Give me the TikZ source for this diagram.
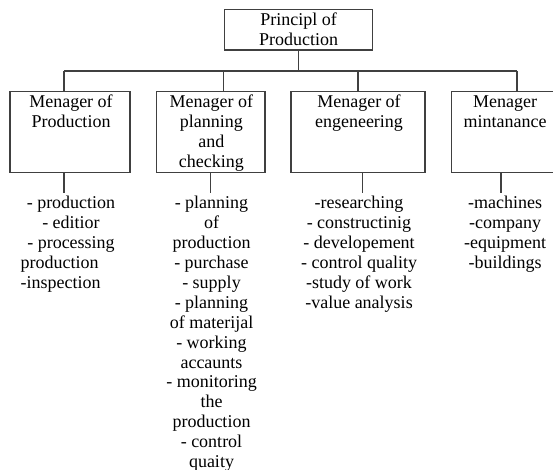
\documentclass[tikz,border=0pt]{standalone}
\usepackage{fontspec}
\setmainfont{Liberation Serif}
\definecolor{rule}{HTML}{404040}
\begin{document}
\begin{tikzpicture}[x=1pt,y=-1pt,
  frame/.style={draw=rule,line width=1.1pt,inner sep=0pt,outer sep=0pt,anchor=north west},
  caption/.style={font=\fontsize{18}{20}\selectfont,align=center,inner sep=0pt,anchor=base},
  items/.style={font=\fontsize{18}{19.92}\selectfont,align=center,inner sep=0pt,anchor=base},
  conn/.style={draw=rule,line width=1.1pt}]
\useasboundingbox (0,0) rectangle (553,470);
\clip (0,0) rectangle (553,470);

% head of the organisation (text nodes are placed by the baseline of their last line)
\node[frame,minimum width=148,minimum height=40.7] (p) at (224.3,9.3) {};
\node[caption] (ptext) at (298.6,46) {Principl of\\Production};

% the four managers
\node[frame,minimum width=120,minimum height=81] (m1) at (10,91.7) {};
\node[frame,minimum width=108.3,minimum height=81] (m2) at (156.7,91.7) {};
\node[frame,minimum width=134,minimum height=81] (m3) at (291,91.7) {};
\node[frame,minimum width=106.6,minimum height=81] (m4) at (451.7,91.7) {};

\node[caption] (c1) at (71,127.7) {Menager of\\Production};
\node[caption] (c2) at (211.3,167.7) {Menager of\\planning\\and\\checking};
\node[caption] (c3) at (359,127.7) {Menager of\\engeneering};
\node[caption] (c4) at (505,127.7) {Menager\\mintanance};

% junctions of the tree
\coordinate (j1) at (64,71);
\coordinate (j2) at (223.5,71);
\coordinate (j3) at (358,71);
\coordinate (j4) at (517,71);
\draw[conn] (p.south) -- (p.south |- j1);
\draw[conn] (j1) -- (j4);
\draw[conn] (j1) -- (j1 |- m1.north);
\draw[conn] (j2) -- (j2 |- m2.north);
\draw[conn] (j3) -- (j3 |- m3.north);
\draw[conn] (j4) -- (j4 |- m4.north);

% short stubs below each manager
\coordinate (t1) at (64,193);
\coordinate (t2) at (210.7,193);
\coordinate (t3) at (362.7,193);
\coordinate (t4) at (501,193);
\draw[conn] (t1 |- m1.south) -- (t1);
\draw[conn] (t2 |- m2.south) -- (t2);
\draw[conn] (t3 |- m3.south) -- (t3);
\draw[conn] (t4 |- m4.south) -- (t4);

% duties of each manager
\node[items] (l1a) at (71,248.6) {- production\\- editior\\- processing};
\node[items,anchor=base west,align=left] (l1b) at (20.5,288.5) {production\\-inspection};
\node[items] (l2) at (211.5,467.6) {- planning\\of\\production\\- purchase\\- supply\\- planning\\of materijal\\- working\\accaunts\\- monitoring\\the\\production\\- control\\quaity};
\node[items] (l3) at (359,308.4) {-researching\\- constructinig\\- developement\\- control quality\\-study of work\\-value analysis};
\node[items] (l4) at (505,268.6) {-machines\\-company\\-equipment\\-buildings};
\end{tikzpicture}
\end{document}
